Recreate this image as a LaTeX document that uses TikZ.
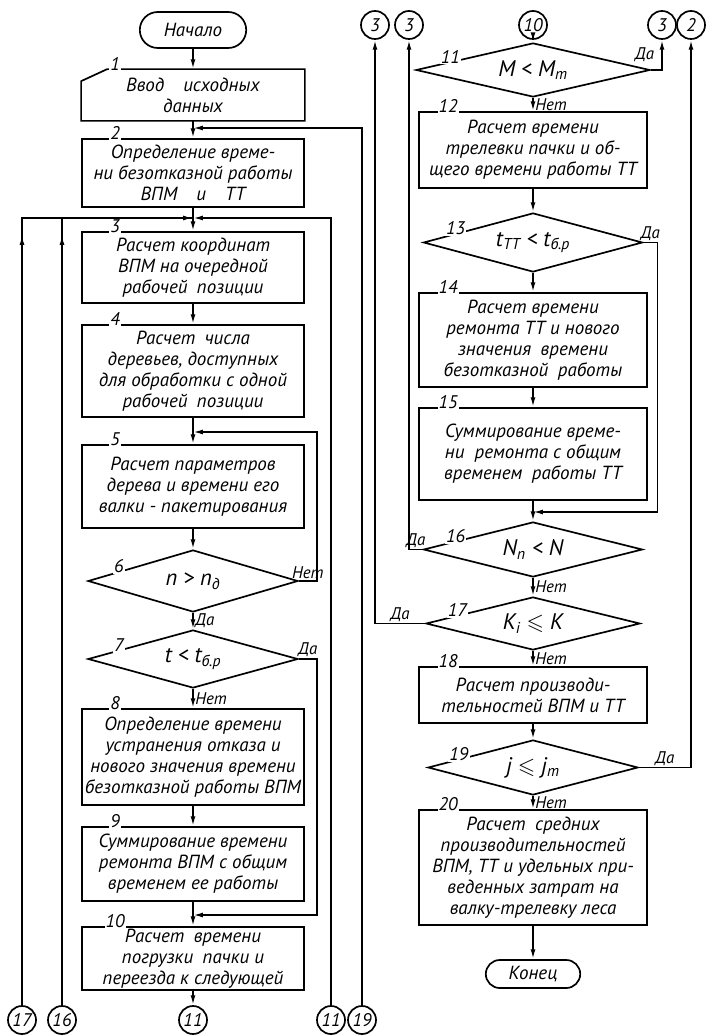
\documentclass[tikz,border=0pt]{standalone}
\usepackage{amsmath,amssymb}
\usepackage{fontspec}
\setmainfont{PT Sans}
\usetikzlibrary{arrows.meta, positioning, calc, shapes.geometric, shapes.misc, decorations.markings}

\begin{document}
\begin{tikzpicture}[x=0.025cm, y=-0.025cm, line width=1.2pt,
    font=\itshape\fontsize{13.5}{15}\selectfont,
    >={Latex[length=7pt,width=3.5pt]},
    blk/.style={draw, minimum width=5.55cm, inner sep=1pt, align=center},
    rblk/.style={draw, minimum width=5.7cm, inner sep=1pt, align=center},
    dec/.style={draw, diamond, aspect=3.5, inner sep=0pt, font=\itshape\fontsize{16}{16}\selectfont},
    term/.style={draw, rounded rectangle, inner sep=2pt},
    conn/.style={draw, circle, minimum size=0.7cm, inner sep=0pt, font=\itshape\fontsize{13}{13}\selectfont},
    num/.style={fill=white, inner sep=0.8pt, anchor=south, yshift=-2.5pt, font=\itshape\fontsize{13}{13}\selectfont},
    lbl/.style={inner sep=1pt, font=\itshape\fontsize{12}{12}\selectfont},
    arrowat/.style={postaction={decorate}, decoration={markings,
        mark=at position #1 with {\arrow{Latex[length=7pt,width=3.5pt]}}}}]
  \useasboundingbox (0,0) rectangle (705,1036);

  % left column
  \node[term, minimum width=2.8cm, minimum height=0.9cm] (start) at (193,30) {Начало};
  \node[blk, draw=none, minimum height=1.25cm] (b1) at (193,95) {Ввод\quad исходных\\данных};
  \draw (b1.south west) -- ([yshift=-0.3cm]b1.north west) -- ([xshift=0.65cm]b1.north west)
    -- (b1.north east) -- (b1.south east) -- cycle;
  \node[blk, minimum height=1.7cm] (b2) at (193,173) {Определение време-\\ни безотказной работы\\ВПМ\quad и\quad ТТ};
  \node[blk, minimum height=1.775cm] (b3) at (193,267.5) {Расчет координат\\ВПМ на очередной\\рабочей\enspace позиции};
  \node[blk, minimum height=2.3cm] (b4) at (193,371) {Расчет\enspace числа\\деревьев, доступных\\для обработки с одной\\рабочей\enspace позиции};
  \node[blk, minimum height=2.075cm] (b5) at (193,486.5) {Расчет параметров\\дерева и времени его\\валки - пакетирования};
  \node[dec, minimum width=5.25cm, minimum height=1.55cm] (d6) at (193,581) {n > n\textsubscript{д}};
  \node[dec, minimum width=5.25cm, minimum height=1.45cm] (d7) at (193,659) {t < t\textsubscript{б.р}};
  \node[blk, minimum height=2.4cm] (b8) at (193,757) {Определение времени\\устранения отказа и\\нового значения времени\\безотказной работы ВПМ};
  \node[blk, minimum height=1.85cm] (b9) at (193,864) {Суммирование времени\\ремонта ВПМ с общим\\временем ее работы};
  \node[blk, minimum height=1.575cm] (b10) at (193,958.5) {Расчет\enspace времени\\погрузки\enspace пачки и\\переезда к следующей};

  \node[num] (n1) at ([xshift=0.85cm]b1.north west) {1};
  \node[num] (n2) at ([xshift=0.85cm]b2.north west) {2};
  \node[num] (n3) at ([xshift=0.85cm]b3.north west) {3};
  \node[num] (n4) at ([xshift=0.85cm]b4.north west) {4};
  \node[num] (n5) at ([xshift=0.85cm]b5.north west) {5};
  \node[num] (n6) at ($(d6.west)!0.3!(d6.north)$) {6};
  \node[num] (n7) at ($(d7.west)!0.3!(d7.north)$) {7};
  \node[num] (n8) at ([xshift=0.85cm]b8.north west) {8};
  \node[num] (n9) at ([xshift=0.85cm]b9.north west) {9};
  \node[num] (n10) at ([xshift=0.85cm]b10.north west) {10};

  \node[conn] (c17) at (22,1020) {17};
  \node[conn] (c16) at (62,1020) {16};
  \node[conn] (c11b) at (193,1020) {11};
  \node[conn] (c11r) at (331,1020) {11};
  \node[conn] (c19) at (362,1020) {19};
  \coordinate (j2) at (193,128);
  \coordinate (j3) at (193,218);
  \coordinate (j5) at (193,432);
  \coordinate (j10) at (193,915);

  \draw[->] (start) -- (b1);
  \draw[->] (b1) -- (b2);
  \draw[->] (b2) -- (b3);
  \draw[->] (b3) -- (b4);
  \draw[->] (b4) -- (b5);
  \draw[->] (b5) -- (d6);
  \draw[->] (d6) -- node[lbl, right] {Да} (d7);
  \draw[->] (d7) -- node[lbl, right] {Нет} (b8);
  \draw[->] (b8) -- (b9);
  \draw[->] (b9) -- (b10);
  \draw[->] (b10) -- (c11b);
  \draw[->] (d6.east) -- node[lbl, above] {Нет} ++(18,0) |- (j5);
  \draw[->] (d7.east) -- node[lbl, above] {Да} ++(18,0) |- (j10);
  \draw[->, arrowat=-4.7cm] (c17) |- (j3);
  \draw[arrowat=-3.7cm] (c16) |- (j3);
  \draw[->] (c11r) |- (j3);
  \draw[->] (c19) |- (j2);

  % right column
  \node[conn] (c3a) at (375,25) {3};
  \node[conn] (c3b) at (409,25) {3};
  \node[conn] (c10) at (533,25) {10};
  \node[conn] (c3c) at (662,25) {3};
  \node[conn] (c2) at (691,25) {2};
  \node[dec, minimum width=5.85cm, minimum height=1.35cm] (d11) at (533,70) {M < M\textsubscript{m}};
  \node[rblk, minimum height=1.9cm] (b12) at (533,150) {Расчет времени\\трелевки\ пачки и об-\\щего времени работы ТТ};
  \node[dec, minimum width=5.475cm, minimum height=1.475cm] (d13) at (533,242.5) {t\textsubscript{ТТ} < t\textsubscript{б.р}};
  \node[rblk, minimum height=2.35cm] (b14) at (533,340) {Расчет времени\\ремонта ТТ и нового\\значения\enspace времени\\безотказной\enspace работы};
  \node[rblk, minimum height=2.3cm] (b15) at (533,454) {Суммирование време-\\ни\ \ ремонта с общим\\временем\enspace работы ТТ};
  \node[dec, minimum width=5.475cm, minimum height=1.375cm] (d16) at (533,549.5) {N\textsubscript{п} < N};
  \node[dec, minimum width=5.35cm, minimum height=1.325cm] (d17) at (533,623.5) {K\textsubscript{i} $\leqslant$ K};
  \node[rblk, minimum height=1.4cm] (b18) at (533,695) {Расчет производи-\\тельностей ВПМ и ТТ};
  \node[dec, minimum width=5.25cm, minimum height=1.375cm] (d19) at (533,767.5) {j $\leqslant$ j\textsubscript{m}};
  \node[rblk, minimum height=2.875cm] (b20) at (533,867.5) {Расчет\enspace средних\\производительностей\\ВПМ, ТТ и удельных при-\\веденных затрат на\\валку-трелевку леса};
  \node[term, minimum width=2.5cm, minimum height=0.7cm] (stop) at (533,974) {Конец};

  \node[num] (n11) at ($(d11.west)!0.3!(d11.north)$) {11};
  \node[num] (n12) at ([xshift=0.75cm]b12.north west) {12};
  \node[num] (n13) at ($(d13.west)!0.3!(d13.north)$) {13};
  \node[num] (n14) at ([xshift=0.75cm]b14.north west) {14};
  \node[num] (n15) at ([xshift=0.75cm]b15.north west) {15};
  \node[num] (n16) at ($(d16.west)!0.3!(d16.north)$) {16};
  \node[num] (n17) at ($(d17.west)!0.3!(d17.north)$) {17};
  \node[num] (n18) at ([xshift=0.75cm]b18.north west) {18};
  \node[num] (n19) at ($(d19.west)!0.3!(d19.north)$) {19};
  \node[num] (n20) at ([xshift=0.75cm]b20.north west) {20};
  \coordinate (j16) at (533,512);

  \draw[->] (c10) -- (d11);
  \draw[->] (d11) -- node[lbl, right] {Нет} (b12);
  \draw[->] (d11.east) -| node[lbl, pos=0.5, anchor=south east, xshift=-4pt, yshift=4pt] {Да} (c3c);
  \draw[->] (b12) -- (d13);
  \draw[->] (d13) -- (b14);
  \draw[->] (d13.east) -- node[lbl, above] {Да} ++(14,0) |- (j16);
  \draw[->] (b14) -- (b15);
  \draw[->] (b15) -- (d16);
  \draw[->] (d16.west) -| node[lbl, above, pos=0.25] {Да} (c3b);
  \draw[->] (d16) -- node[lbl, right] {Нет} (d17);
  \draw[->] (d17.west) -| node[lbl, above, pos=0.25] {Да} (c3a);
  \draw[->] (d17) -- node[lbl, right] {Нет} (b18);
  \draw[->] (b18) -- (d19);
  \draw[->] (d19.east) -| node[lbl, above, pos=0.25] {Да} (c2);
  \draw[->] (d19) -- node[lbl, right] {Нет} (b20);
  \draw[->] (b20) -- (stop);
\end{tikzpicture}
\end{document}
